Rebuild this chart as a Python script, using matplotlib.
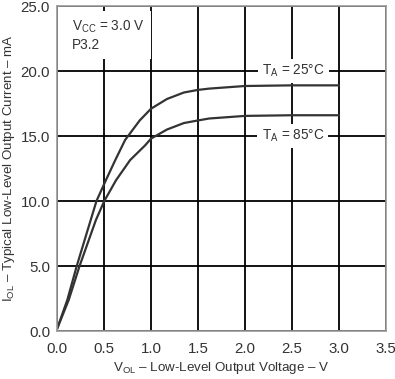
import matplotlib
matplotlib.use("Agg")
import matplotlib.pyplot as plt

plt.rcParams['font.family'] = ['Liberation Sans', 'DejaVu Sans']
plt.rcParams['mathtext.fontset'] = 'custom'
plt.rcParams['mathtext.rm'] = 'Liberation Sans'
plt.rcParams['mathtext.it'] = 'Liberation Sans'

# Кривые I_OL(V_OL)
v_25 = [0.0, 0.11, 0.21, 0.357, 0.42, 0.52, 0.62, 0.725, 0.88, 1.0, 1.17, 1.35, 1.5, 1.62, 2.0, 2.5, 3.0]
i_25 = [0.15, 2.4, 5.0, 8.5, 10.0, 11.6, 13.15, 14.7, 16.2, 17.1, 17.85, 18.35, 18.55, 18.65, 18.85, 18.9, 18.9]

v_85 = [0.0, 0.125, 0.24, 0.414, 0.503, 0.628, 0.778, 0.94, 1.0, 1.17, 1.35, 1.5, 1.62, 2.0, 2.5, 3.0]
i_85 = [0.15, 2.4, 5.0, 8.54, 10.0, 11.6, 13.15, 14.3, 14.8, 15.5, 16.0, 16.2, 16.35, 16.55, 16.6, 16.6]

x_ticks = [0.0, 0.5, 1.0, 1.5, 2.0, 2.5, 3.0, 3.5]
y_ticks = [0.0, 5.0, 10.0, 15.0, 20.0, 25.0]

fig = plt.figure(figsize=(3.95, 3.79), dpi=100)
ax = fig.add_axes([0.1443, 0.1266, 0.8327, 0.8574])

ax.plot(v_25, i_25, color='#333333', lw=1.6, zorder=3)
ax.plot(v_85, i_85, color='#333333', lw=1.6, zorder=3)

ax.set_xlim(0, 3.5)
ax.set_ylim(0, 25)
ax.set_xticks(x_ticks)
ax.set_yticks(y_ticks)
ax.set_xticklabels([f"{t:.1f}" for t in x_ticks])
ax.set_yticklabels([f"{t:.1f}" for t in y_ticks])
ax.tick_params(length=0, labelsize=10.8, colors='#333333')
ax.tick_params(axis='x', pad=8)
ax.tick_params(axis='y', pad=5)
ax.grid(True, color='black', lw=1.3, zorder=1)
ax.set_axisbelow(True)
for s in ax.spines.values():
    s.set_color('#999999')
    s.set_linewidth(1.2)
    s.set_zorder(4)

box = dict(facecolor='white', edgecolor='none', pad=3)
ax.text(0.155, 24.0, r"V$_{\mathrm{CC}}$ = 3.0 V" + "\nP3.2", fontsize=9.8,
        color='#333333', ha='left', va='top', linespacing=1.2,
        bbox=dict(facecolor='white', edgecolor='none', pad=5), zorder=5)
ax.text(2.52, 20.0, r"T$_{\mathrm{A}}$ = 25°C", fontsize=9.8, color='#333333',
        ha='center', va='center', bbox=box, zorder=5)
ax.text(2.51, 15.0, r"T$_{\mathrm{A}}$ = 85°C", fontsize=9.8, color='#333333',
        ha='center', va='center', bbox=box, zorder=5)

# Подписи осей ставим вручную
fig.text(0.561, 0.03, r"V$_{\mathrm{OL}}$ – Low-Level Output Voltage – V", fontsize=9.6,
         color='#333333', ha='center', va='center')
fig.text(0.024, 0.555, r"I$_{\mathrm{OL}}$ – Typical Low-Level Output Current – mA", fontsize=9.6,
         color='#333333', ha='center', va='center', rotation=90)

fig.savefig("out.png", dpi=100)
